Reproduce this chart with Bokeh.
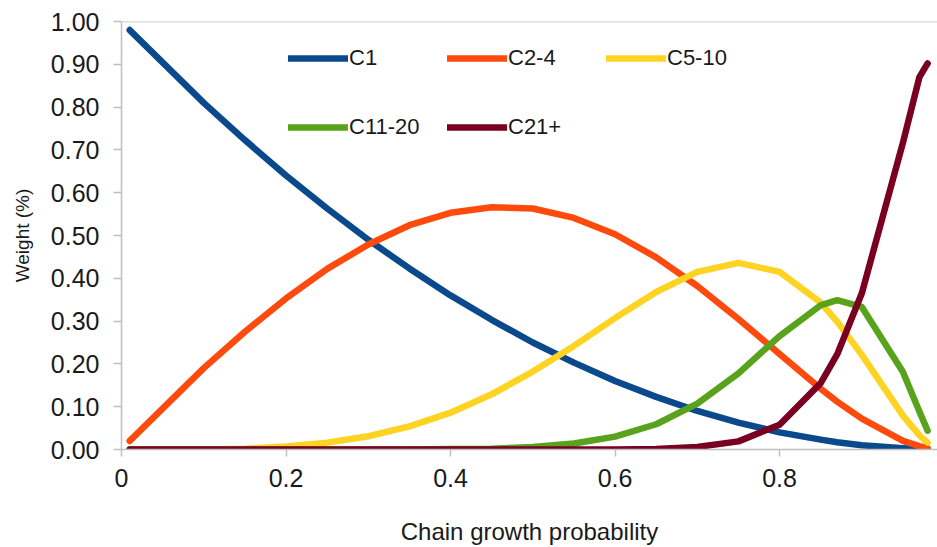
from bokeh.plotting import figure
from bokeh.models import Legend, LegendItem, FixedTicker, Span, Range1d
from bokeh.embed import file_html
from bokeh.resources import INLINE

# ---- data ----
alpha = [0.01, 0.1, 0.15, 0.2, 0.25, 0.3, 0.35, 0.4, 0.45, 0.5, 0.55, 0.6,
         0.65, 0.7, 0.75, 0.8, 0.85, 0.87, 0.9, 0.95, 0.97, 0.98]
c1 = [0.980, 0.810, 0.723, 0.640, 0.563, 0.490, 0.423, 0.360, 0.303, 0.250, 0.203,
      0.160, 0.123, 0.090, 0.063, 0.040, 0.023, 0.017, 0.010, 0.003, 0.001, 0.000]
c2_4 = [0.020, 0.190, 0.275, 0.353, 0.422, 0.479, 0.524, 0.553, 0.566, 0.563, 0.541,
        0.503, 0.449, 0.382, 0.305, 0.223, 0.142, 0.112, 0.072, 0.020, 0.008, 0.003]
c5_10 = [0.000, 0.000, 0.002, 0.007, 0.016, 0.031, 0.054, 0.086, 0.129, 0.182, 0.242,
         0.307, 0.368, 0.415, 0.436, 0.415, 0.343, 0.299, 0.221, 0.079, 0.033, 0.016]
c11_20 = [0.000, 0.000, 0.000, 0.000, 0.000, 0.000, 0.000, 0.001, 0.002, 0.006, 0.014,
          0.030, 0.059, 0.107, 0.178, 0.265, 0.337, 0.349, 0.333, 0.181, 0.089, 0.044]
c21_plus = [0.000, 0.000, 0.000, 0.000, 0.000, 0.000, 0.000, 0.000, 0.000, 0.000, 0.000,
            0.000, 0.001, 0.006, 0.019, 0.058, 0.155, 0.222, 0.365, 0.717, 0.870, 0.902]

series_names = ["C1", "C2-4", "C5-10", "C11-20", "C21+"]
series_values = [c1, c2_4, c5_10, c11_20, c21_plus]
series_colors = ["#0a4a8c", "#ff4a0d", "#ffd322", "#58a21c", "#7a0022"]

x_ticks = [0.0, 0.2, 0.4, 0.6, 0.8, 1.0]
x_tick_labels = ["0", "0.2", "0.4", "0.6", "0.8", "1"]
y_ticks = [0.0, 0.1, 0.2, 0.3, 0.4, 0.5, 0.6, 0.7, 0.8, 0.9, 1.0]
y_tick_labels = ["0.00", "0.10", "0.20", "0.30", "0.40", "0.50",
                 "0.60", "0.70", "0.80", "0.90", "1.00"]

FONT = "Liberation Sans"
GRAY = "#bfbfbf"
TEXT = "#1a1a1a"

p = figure(width=937, height=547, output_backend="svg", toolbar_location=None,
           x_range=Range1d(0, 0.992), y_range=Range1d(0, 1.0),
           min_border_left=121, min_border_right=0, min_border_top=21,
           min_border_bottom=97)
p.outline_line_color = None
p.grid.visible = False
p.background_fill_color = "white"
p.border_fill_color = "white"

renderers = []
for name, vals, col in zip(series_names, series_values, series_colors):
    r = p.line(alpha, vals, line_color=col, line_width=6.5,
               line_join="round", line_cap="round")
    renderers.append(r)

p.add_layout(Span(location=1.0, dimension="width", line_color=GRAY, line_width=1.5))

# axes
for ax in (p.xaxis[0], p.yaxis[0]):
    ax.axis_line_color = GRAY
    ax.axis_line_width = 1.5
    ax.major_tick_line_color = GRAY
    ax.major_tick_line_width = 1.5
    ax.major_tick_in = 0
    ax.minor_tick_line_color = None
    ax.major_label_text_font = FONT
    ax.major_label_text_color = TEXT
    ax.axis_label_text_font = FONT
    ax.axis_label_text_color = TEXT
    ax.axis_label_text_font_style = "normal"

p.xaxis.ticker = FixedTicker(ticks=x_ticks)
p.xaxis.major_label_overrides = dict(zip(x_ticks, x_tick_labels))
p.xaxis.major_tick_out = 7
p.xaxis.major_label_standoff = 12
p.xaxis.major_label_text_font_size = "25px"
p.xaxis.axis_label = "Chain growth probability"
p.xaxis.axis_label_text_font_size = "24px"
p.xaxis.axis_label_standoff = 28

p.yaxis.ticker = FixedTicker(ticks=y_ticks)
p.yaxis.major_label_overrides = dict(zip(y_ticks, y_tick_labels))
p.yaxis.major_tick_out = 8
p.yaxis.major_label_standoff = 14
p.yaxis.major_label_text_font_size = "25px"
p.yaxis.axis_label = "Weight (%)"
p.yaxis.axis_label_text_font_size = "19px"
p.yaxis.axis_label_standoff = 15

def make_legend(idx, loc):
    items = [LegendItem(label=series_names[i], renderers=[renderers[i]]) for i in idx]
    lg = Legend(items=items, orientation="horizontal", location=loc,
                glyph_width=60, glyph_height=24, label_height=24, label_width=98,
                label_standoff=1, spacing=0, padding=0, margin=0,
                border_line_color=None, background_fill_alpha=0,
                label_text_font=FONT, label_text_font_size="22px",
                label_text_color=TEXT)
    p.add_layout(lg, "center")

make_legend([0, 1, 2], (167, 378))
make_legend([3, 4], (167, 309))

open("out.html", "w").write(file_html(p, INLINE))
